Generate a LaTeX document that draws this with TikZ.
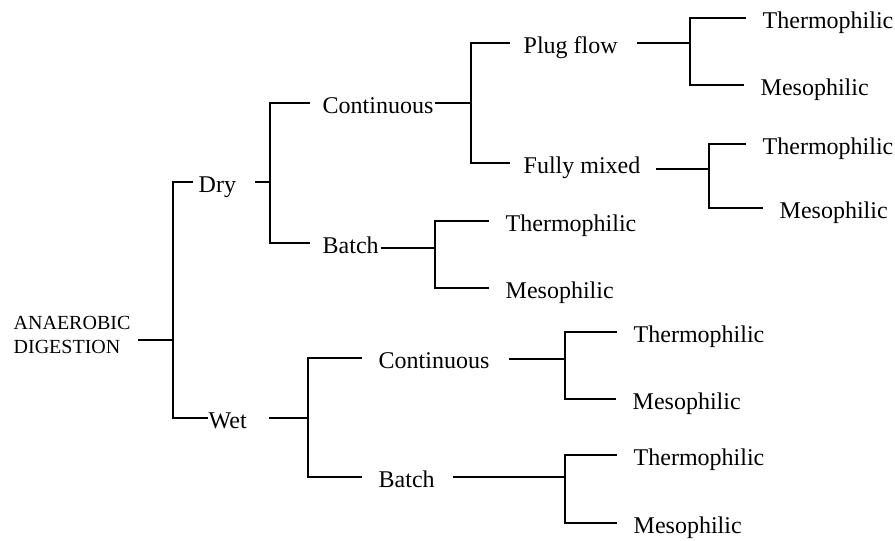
\documentclass[tikz,border=0pt]{standalone}
\usepackage{fontspec}
\setmainfont{Liberation Serif}
\begin{document}
\begin{tikzpicture}[x=0.5pt,y=-0.5pt,line width=0.7pt,
    lbl/.style={anchor=west,inner sep=0pt,text height=10pt,text depth=0pt,font=\fontsize{12}{14}\selectfont}]
            \useasboundingbox (0,0) rectangle (895,541);
            \node[anchor=west,inner sep=0pt,align=left,font=\fontsize{10}{12}\selectfont] (ad) at (13,335) {ANAEROBIC\\DIGESTION};
            \coordinate (j0) at (173,340);
            \node[lbl] (dry) at (198,182) {Dry};
            \node[lbl] (wet) at (208,418) {Wet};
            \coordinate (jd) at (270,182);
            \coordinate (jw) at (308,418);
            \node[lbl] (cd) at (322,103) {Continuous};
            \node[lbl] (bd) at (322,243) {Batch};
            \node[lbl] (cw) at (378,358) {Continuous};
            \node[lbl] (bw) at (378,477) {Batch};
            \coordinate (jcd) at (471,103);
            \node[lbl] (pf) at (523,43) {Plug flow};
            \node[lbl] (fm) at (523,163) {Fully mixed};
            \foreach \n/\jx/\jy/\tx/\ty/\mx/\my in {p/690/43/762/18/760/85,f/709/169/762/144/779/208,b/435/248/505/221/505/288,cw/565/359/633/332/632/399,bw/565/477/633/455/633/523}
            {
              \coordinate (j\n) at (\jx,\jy);
              \node[lbl] (t\n) at (\tx,\ty) {Thermophilic};
              \node[lbl] (m\n) at (\mx,\my) {Mesophilic};
              \draw[shorten >=8pt] (j\n) |- (t\n);
              \draw[shorten >=8pt] (j\n) |- (m\n);
            }
            \draw[shorten <=3.5pt] (ad.east |- j0) -- (j0);
            \draw[shorten >=2.5pt] (j0) |- (dry);
            \draw (j0) |- (wet);
            \draw[shorten <=9pt] (dry) -- (jd);
            \draw[shorten >=6pt] (jd) |- (cd);
            \draw[shorten >=6pt] (jd) |- (bd);
            \draw[shorten <=0.5pt] (cd) -- (jcd);
            \draw[shorten >=6.5pt] (jcd) |- (pf);
            \draw[shorten >=6.5pt] (jcd) |- (fm);
            \draw[shorten <=9.5pt] (pf) -- (jp);
            \draw[shorten <=7.5pt] (fm.east |- jf) -- (jf);
            \draw[shorten <=1pt] (bd.east |- jb) -- (jb);
            \draw[shorten <=11pt] (wet) -- (jw);
            \draw[shorten >=8pt] (jw) |- (cw);
            \draw[shorten >=8pt] (jw) |- (bw);
            \draw[shorten <=9.5pt] (cw.east |- jcw) -- (jcw);
            \draw[shorten <=9pt] (bw) -- (jbw);
        \end{tikzpicture}
\end{document}
